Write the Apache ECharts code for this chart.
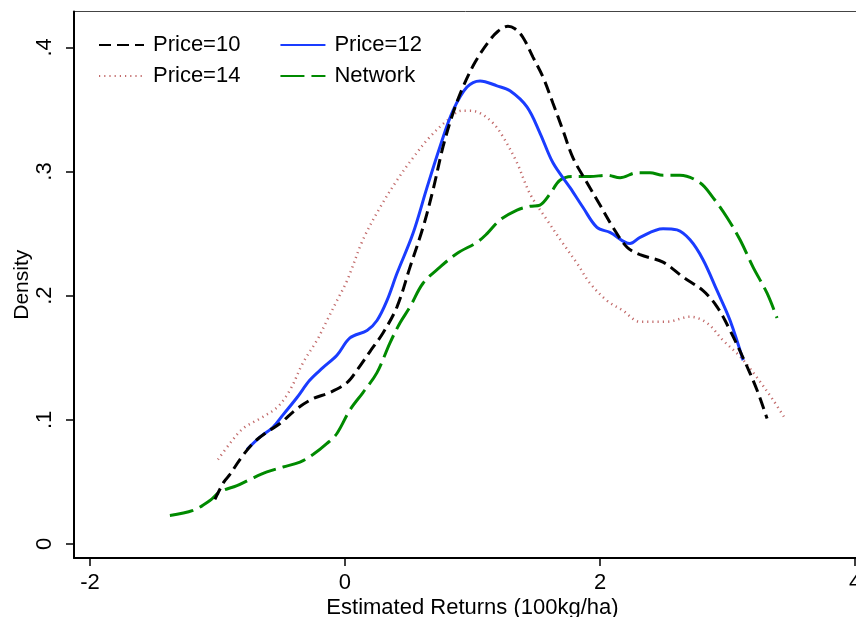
<!DOCTYPE html>
<html>
<head>
<meta charset="utf-8">
<title>Density of estimated returns</title>
<script src="https://cdn.jsdelivr.net/npm/echarts@6/dist/echarts.min.js"></script>
<style>
  html, body { margin: 0; padding: 0; background: #fff; overflow: hidden; }
  #chart { width: 856px; height: 617px; }
</style>
</head>
<body>
<div id="chart"></div>
<script>
// Kernel density estimates of returns, [x, density] pairs
const price10 = [
  [-1.02, 0.036], [-0.949, 0.050], [-0.902, 0.056], [-0.824, 0.068], [-0.722, 0.081],
  [-0.627, 0.089], [-0.510, 0.097], [-0.376, 0.109], [-0.251, 0.117], [-0.118, 0.122],
  [0.016, 0.130], [0.094, 0.140], [0.196, 0.155], [0.298, 0.170], [0.408, 0.191],
  [0.510, 0.223], [0.612, 0.255], [0.690, 0.285], [0.769, 0.320], [0.847, 0.347],
  [0.925, 0.368], [1.020, 0.388], [1.122, 0.404], [1.200, 0.413], [1.278, 0.417],
  [1.333, 0.415], [1.396, 0.408], [1.475, 0.392], [1.553, 0.376], [1.631, 0.355],
  [1.710, 0.333], [1.788, 0.311], [1.898, 0.291], [2.000, 0.273], [2.102, 0.255],
  [2.212, 0.239], [2.314, 0.233], [2.494, 0.227], [2.651, 0.215], [2.808, 0.204],
  [2.918, 0.191], [3.020, 0.172], [3.122, 0.150], [3.231, 0.124], [3.310, 0.101]
];
const price12 = [
  [-0.769, 0.076], [-0.667, 0.086], [-0.565, 0.094], [-0.486, 0.104], [-0.376, 0.118],
  [-0.275, 0.132], [-0.173, 0.142], [-0.063, 0.152], [0.039, 0.166], [0.173, 0.172],
  [0.251, 0.180], [0.329, 0.196], [0.408, 0.218], [0.533, 0.250], [0.643, 0.287],
  [0.745, 0.320], [0.847, 0.349], [0.957, 0.368], [1.059, 0.373], [1.192, 0.369],
  [1.294, 0.365], [1.427, 0.352], [1.529, 0.331], [1.631, 0.307], [1.765, 0.287],
  [1.867, 0.271], [1.976, 0.255], [2.078, 0.251], [2.235, 0.242], [2.314, 0.247],
  [2.494, 0.254], [2.604, 0.253], [2.706, 0.245], [2.808, 0.229], [2.918, 0.204],
  [3.020, 0.180], [3.122, 0.148]
];
const price14 = [
  [-0.996, 0.068], [-0.902, 0.081], [-0.800, 0.093], [-0.667, 0.101], [-0.533, 0.110],
  [-0.431, 0.124], [-0.329, 0.146], [-0.220, 0.164], [-0.141, 0.180], [-0.063, 0.196],
  [0.016, 0.212], [0.141, 0.245], [0.275, 0.271], [0.408, 0.293], [0.533, 0.311],
  [0.667, 0.328], [0.800, 0.341], [0.918, 0.349], [0.980, 0.349], [1.059, 0.347],
  [1.161, 0.339], [1.239, 0.328], [1.349, 0.307], [1.451, 0.282], [1.584, 0.261],
  [1.710, 0.242], [1.820, 0.226], [1.922, 0.210], [2.055, 0.196], [2.180, 0.188],
  [2.314, 0.179], [2.525, 0.179], [2.706, 0.183], [2.839, 0.178], [2.965, 0.164],
  [3.098, 0.151], [3.231, 0.134], [3.357, 0.116], [3.451, 0.101]
];
const network = [
  [-1.373, 0.023], [-1.192, 0.027], [-1.059, 0.035], [-0.980, 0.042], [-0.847, 0.047],
  [-0.745, 0.052], [-0.612, 0.058], [-0.486, 0.062], [-0.353, 0.066], [-0.251, 0.072],
  [-0.141, 0.081], [-0.063, 0.089], [0.039, 0.108], [0.141, 0.122], [0.251, 0.138],
  [0.353, 0.162], [0.431, 0.178], [0.510, 0.191], [0.612, 0.210], [0.745, 0.223],
  [0.878, 0.234], [1.035, 0.243], [1.114, 0.250], [1.216, 0.261], [1.349, 0.269],
  [1.451, 0.272], [1.529, 0.273], [1.608, 0.282], [1.686, 0.293], [1.788, 0.296],
  [1.922, 0.296], [2.055, 0.297], [2.157, 0.295], [2.290, 0.299], [2.392, 0.299],
  [2.494, 0.297], [2.627, 0.297], [2.784, 0.291], [2.886, 0.279], [2.996, 0.263],
  [3.098, 0.245], [3.200, 0.223], [3.310, 0.202], [3.388, 0.182]
];

const xTicks = [-2, 0, 2, 4];
const yTicks = [0, 0.1, 0.2, 0.3, 0.4];
const seriesNames = ['Price=10', 'Price=12', 'Price=14', 'Network'];

const FONT = 'Liberation Sans, Arial, Helvetica, sans-serif';
const chart = echarts.init(document.getElementById('chart'), null, { renderer: 'canvas' });

function lineSeries(name, data, color, width, type) {
  return {
    name: name,
    type: 'line',
    data: data,
    smooth: 0.35,
    symbol: 'none',
    showSymbol: false,
    lineStyle: { color: color, width: width, type: type, cap: 'butt' },
    itemStyle: { color: color },
    emphasis: { disabled: true },
    animation: false
  };
}

// Legend keys show only the line sample (the marker is made invisible)
const legendBase = {
  left: 93,
  itemWidth: 45,
  itemHeight: 14,
  itemGap: 39,
  selectedMode: false,
  itemStyle: { opacity: 0 },
  textStyle: { fontFamily: FONT, fontSize: 22, color: '#000', padding: [0, 0, 0, 4] }
};

chart.setOption({
  backgroundColor: '#fff',
  animation: false,
  grid: {
    left: 74, top: 11.5, width: 797, height: 546.5,
    outerBoundsMode: 'none',
    containLabel: false,
    show: true, borderColor: '#444', borderWidth: 1, backgroundColor: 'transparent'
  },
  legend: [
    Object.assign({}, legendBase, { top: 29, data: [seriesNames[0], seriesNames[1]] }),
    Object.assign({}, legendBase, { top: 60, data: [seriesNames[2], seriesNames[3]] })
  ],
  xAxis: {
    type: 'value',
    min: -2.125, max: 4.125,
    name: 'Estimated Returns (100kg/ha)',
    nameLocation: 'middle',
    nameGap: 39,
    nameMoveOverlap: false,
    nameTextStyle: { fontFamily: FONT, fontSize: 22, color: '#000' },
    axisLine: { show: true, onZero: false, lineStyle: { color: '#000', width: 2 } },
    axisTick: { show: true, length: 8, customValues: xTicks, lineStyle: { color: '#000', width: 1.5 } },
    axisLabel: {
      customValues: xTicks, margin: 14,
      fontFamily: FONT, fontSize: 22, color: '#000',
      formatter: v => String(v)
    },
    splitLine: { show: false }
  },
  yAxis: {
    type: 'value',
    min: -0.0113, max: 0.4289,
    name: 'Density',
    nameLocation: 'middle',
    nameGap: 41,
    nameMoveOverlap: false,
    nameRotate: 90,
    nameTextStyle: { fontFamily: FONT, fontSize: 21, color: '#000' },
    axisLine: { show: true, onZero: false, lineStyle: { color: '#000', width: 2 } },
    axisTick: { show: true, length: 8, customValues: yTicks, lineStyle: { color: '#000', width: 1.5 } },
    axisLabel: {
      customValues: yTicks, margin: 18, rotate: 90,
      fontFamily: FONT, fontSize: 22, color: '#000',
      formatter: v => (v === 0 ? '0' : String(+v.toFixed(1)).replace(/^0\./, '.'))
    },
    splitLine: { show: false }
  },
  series: [
    lineSeries('Price=14', price14, '#c26b6b', 2.5, [1.2, 4]),
    lineSeries('Network', network, '#008a00', 3, [24, 7]),
    lineSeries('Price=12', price12, '#1a3cff', 3, 'solid'),
    lineSeries('Price=10', price10, '#000000', 3, [12, 6])
  ]
});
</script>
</body>
</html>
